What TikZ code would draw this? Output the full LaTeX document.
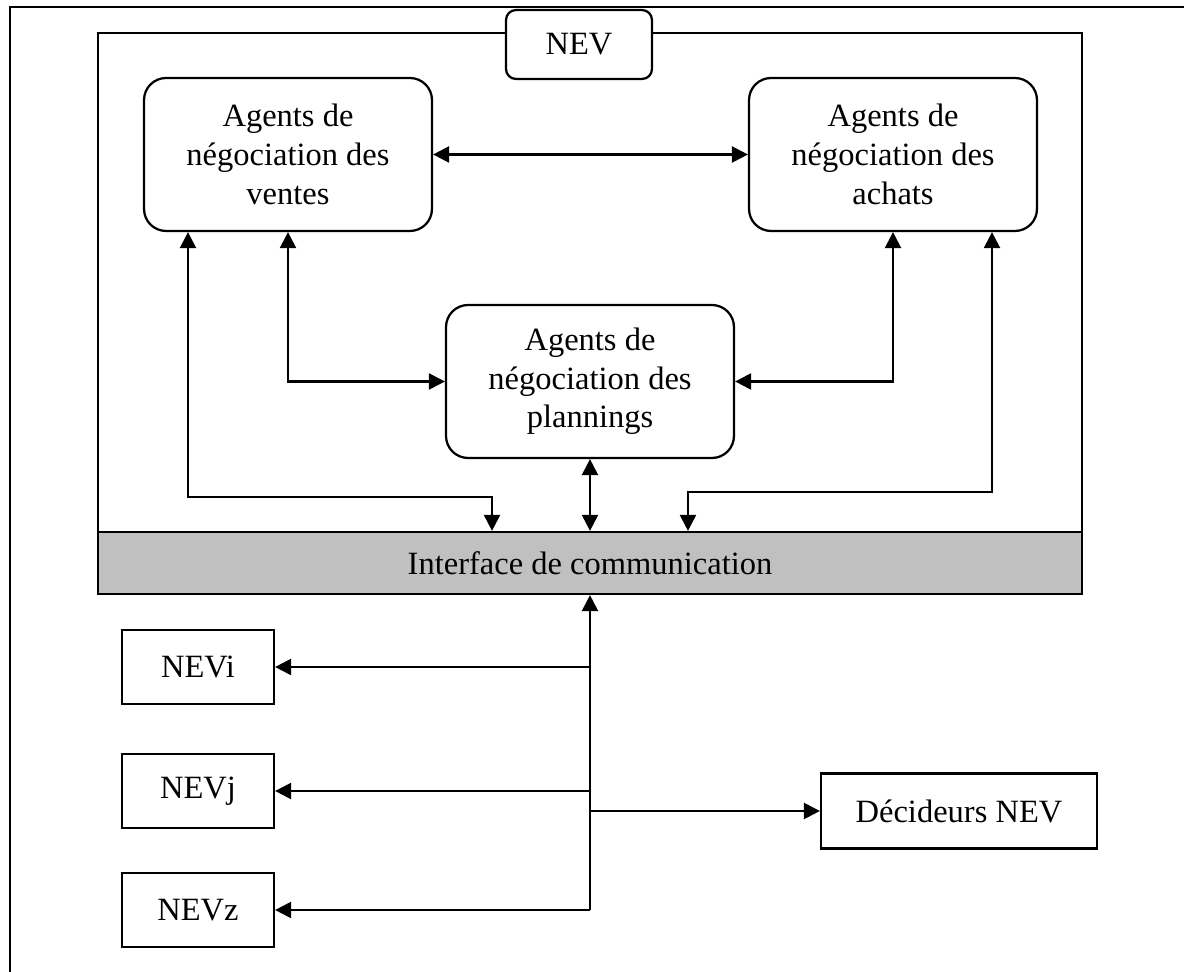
\documentclass[tikz,border=0pt]{standalone}
\usepackage{fontspec}
\setmainfont{Liberation Serif}
\usetikzlibrary{arrows.meta}
\definecolor{ifgray}{RGB}{192,192,192}
\begin{document}
\begin{tikzpicture}[x=0.02cm,y=-0.02cm,font=\fontsize{18.5}{22}\selectfont,
  >={Triangle[length=0.32cm,width=0.32cm]},line width=0.045cm,
  agent/.style={draw,rounded corners=0.44cm,align=center,minimum width=5.76cm,minimum height=3.06cm,inner sep=0},
  nevbox/.style={draw,minimum width=3.04cm,minimum height=1.48cm,inner sep=0}]
\useasboundingbox (0,0) rectangle (1184,972);
\draw[line width=0.055cm] (10,972)--(10,7)--(1184,7);
\draw (98,33) rectangle (1082,594);
\node[draw,fill=white,rounded corners=0.2cm,minimum width=2.92cm,minimum height=1.38cm,inner sep=0] (nev) at (579,44.5) {NEV};
\node[agent] (ventes) at (288,154.5) {Agents de\\négociation des\\ventes};
\node[agent] (achats) at (893,154.5) {Agents de\\négociation des\\achats};
\node[agent] (plannings) at (590,381.5) {Agents de\\négociation des\\plannings};
\node[draw,fill=ifgray,minimum width=19.68cm,minimum height=1.24cm,inner sep=0] (interface) at (590,563) {Interface de communication};
\node[nevbox] (nevi) at (198,667) {NEVi};
\node[nevbox] (nevj) at (198,791) {NEVj};
\node[nevbox] (nevz) at (198,910) {NEVz};
\node[draw,minimum width=5.52cm,minimum height=1.5cm,inner sep=0] (dec) at (959,811) {Décideurs NEV};
\coordinate (bendV) at (188,497);
\coordinate (bendA) at (992,492);
\draw[<->] (ventes)--(achats);
\draw[<->] (ventes.south) |- (plannings.west);
\draw[<->] (achats.south) |- (plannings.east);
\draw[<->] (plannings)--(interface);
\draw[<->] (ventes.south -| bendV)--(bendV) -| ([xshift=-1.96cm]interface.north);
\draw[<->] (achats.south -| bendA)--(bendA) -| ([xshift=1.96cm]interface.north);
\draw[->] (nevz.east -| interface.south)--(interface.south);
\foreach \n in {nevi,nevj,nevz}
  \draw[->] (\n.east -| interface.south)--(\n.east);
\draw[->] (dec.west -| interface.south)--(dec.west);
\end{tikzpicture}
\end{document}
